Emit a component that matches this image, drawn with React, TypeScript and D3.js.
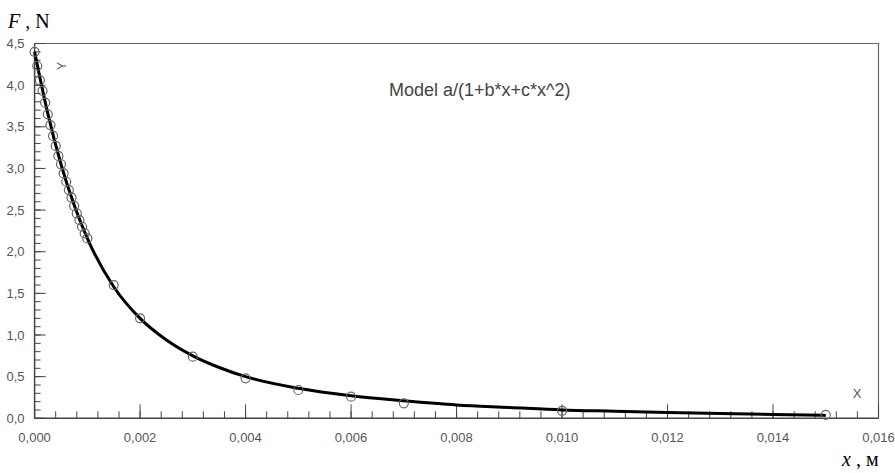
import { useEffect, useRef } from "react"
import * as d3 from "d3"

// measured points (x in m, F in N)
const pointX = [
  0, 0.00005, 0.0001, 0.00015, 0.0002, 0.00025, 0.0003, 0.00035, 0.0004, 0.00045,
  0.0005, 0.00055, 0.0006, 0.00065, 0.0007, 0.00075, 0.0008, 0.00085, 0.0009, 0.00095,
  0.001, 0.0015, 0.002, 0.003, 0.004, 0.005, 0.006, 0.007, 0.01, 0.015,
]
const pointF = [
  4.4, 4.23, 4.06, 3.93, 3.79, 3.65, 3.52, 3.39, 3.27, 3.15,
  3.05, 2.94, 2.84, 2.74, 2.65, 2.55, 2.46, 2.38, 2.3, 2.22,
  2.16, 1.6, 1.2, 0.74, 0.48, 0.34, 0.26, 0.18, 0.09, 0.04,
]

// fitted curve
const fitX = [
  0, 0.00025, 0.0005, 0.00075, 0.001, 0.0015, 0.002, 0.0025, 0.003, 0.0035, 0.004,
  0.005, 0.006, 0.007, 0.008, 0.009, 0.01, 0.011, 0.012, 0.013, 0.014, 0.015,
]
const fitF = [
  4.4, 3.66, 3.05, 2.56, 2.16, 1.58, 1.2, 0.94, 0.75, 0.61, 0.5,
  0.36, 0.27, 0.21, 0.16, 0.13, 0.1, 0.085, 0.07, 0.058, 0.046, 0.035,
]

const xMajorTicks = [0, 0.002, 0.004, 0.006, 0.008, 0.01, 0.012, 0.014, 0.016]
const yMajorTicks = [0, 0.5, 1, 1.5, 2, 2.5, 3, 3.5, 4, 4.5]

const W = 895
const H = 473
const left = 34.6
const right = 878.5
const top = 43.5
const bottom = 418.3
const tickFont = "'Liberation Sans Narrow', 'Liberation Sans', Arial, sans-serif"
const serifFont = "'Liberation Serif', 'Times New Roman', serif"

export default function App() {
  const svgRef = useRef<SVGSVGElement>(null)

  useEffect(() => {
    if (!svgRef.current) return
    const svg = d3.select(svgRef.current)
    svg.selectAll("*").remove()

    const x = d3.scaleLinear().domain([0, 0.016]).range([left, right])
    const y = d3.scaleLinear().domain([0, 4.5]).range([bottom, top])
    const comma = (v: number, f: string) => d3.format(f)(v).replace(".", ",")

    svg.append("rect").attr("width", W).attr("height", H).attr("fill", "#fff")

    // frame
    svg.append("path")
      .attr("d", `M${left},${top}H${right}V${bottom}`)
      .attr("fill", "none")
      .attr("stroke", "#666")
      .attr("stroke-width", 1.2)

    const axisColor = "#444"

    // x axis with minor ticks
    const gx = svg.append("g")
    gx.append("line")
      .attr("x1", left).attr("x2", right).attr("y1", bottom).attr("y2", bottom)
      .attr("stroke", axisColor).attr("stroke-width", 1.5)
    const xMinor = d3.range(0, 0.016 + 1e-9, 0.0004)
    gx.selectAll(".xminor")
      .data(xMinor)
      .join("line")
      .attr("x1", (d) => x(d)).attr("x2", (d) => x(d))
      .attr("y1", bottom).attr("y2", bottom - 7)
      .attr("stroke", axisColor).attr("stroke-width", 1)
    gx.selectAll(".xmajor")
      .data(xMajorTicks)
      .join("line")
      .attr("x1", (d) => x(d)).attr("x2", (d) => x(d))
      .attr("y1", bottom).attr("y2", bottom - 14)
      .attr("stroke", axisColor).attr("stroke-width", 1)
    gx.selectAll("text")
      .data(xMajorTicks)
      .join("text")
      .attr("x", (d) => x(d))
      .attr("y", bottom + 24)
      .attr("text-anchor", "middle")
      .attr("font-family", tickFont)
      .attr("font-size", 13)
      .attr("fill", "#555")
      .text((d) => comma(d, ".3f"))

    // y axis with minor ticks
    const gy = svg.append("g")
    gy.append("line")
      .attr("x1", left).attr("x2", left).attr("y1", top).attr("y2", bottom)
      .attr("stroke", axisColor).attr("stroke-width", 1.5)
    const yMinor = d3.range(0, 4.5 + 1e-9, 0.1)
    gy.selectAll(".yminor")
      .data(yMinor)
      .join("line")
      .attr("x1", left).attr("x2", left + 6)
      .attr("y1", (d) => y(d)).attr("y2", (d) => y(d))
      .attr("stroke", axisColor).attr("stroke-width", 1)
    gy.selectAll(".ymajor")
      .data(yMajorTicks)
      .join("line")
      .attr("x1", left).attr("x2", left + 11)
      .attr("y1", (d) => y(d)).attr("y2", (d) => y(d))
      .attr("stroke", axisColor).attr("stroke-width", 1)
    gy.selectAll("text")
      .data(yMajorTicks)
      .join("text")
      .attr("x", left - 10)
      .attr("y", (d) => y(d) + 4.5)
      .attr("text-anchor", "end")
      .attr("font-family", tickFont)
      .attr("font-size", 13)
      .attr("fill", "#555")
      .text((d) => comma(d, ".1f"))

    // fitted curve
    const line = d3.line<number>()
      .x((d) => x(fitX[d]))
      .y((d) => y(fitF[d]))
      .curve(d3.curveMonotoneX)
    svg.append("path")
      .datum(d3.range(fitX.length))
      .attr("d", line)
      .attr("fill", "none")
      .attr("stroke", "#000")
      .attr("stroke-width", 3)

    // measured points
    svg.selectAll(".pt")
      .data(d3.range(pointX.length))
      .join("circle")
      .attr("cx", (d) => x(pointX[d]))
      .attr("cy", (d) => y(pointF[d]))
      .attr("r", 4.5)
      .attr("fill", "none")
      .attr("stroke", "#666")
      .attr("stroke-width", 1.2)

    // labels inside the plot
    svg.append("text")
      .attr("x", 389)
      .attr("y", 96)
      .attr("font-family", tickFont)
      .attr("font-size", 18)
      .attr("fill", "#444")
      .text("Model a/(1+b*x+c*x^2)")

    svg.append("text")
      .attr("x", 857)
      .attr("y", 398)
      .attr("text-anchor", "middle")
      .attr("font-family", tickFont)
      .attr("font-size", 13)
      .attr("fill", "#555")
      .text("X")

    svg.append("text")
      .attr("transform", "translate(62,66) rotate(-90)")
      .attr("text-anchor", "middle")
      .attr("dy", "0.35em")
      .attr("font-family", tickFont)
      .attr("font-size", 12)
      .attr("fill", "#555")
      .text("Y")

    // axis titles
    const fTitle = svg.append("text")
      .attr("x", 8)
      .attr("y", 28)
      .attr("font-family", serifFont)
      .attr("font-size", 20)
      .attr("fill", "#000")
    fTitle.append("tspan").attr("font-style", "italic").text("F")
    fTitle.append("tspan").text(" , N")

    const xTitle = svg.append("text")
      .attr("x", 842)
      .attr("y", 466)
      .attr("font-family", serifFont)
      .attr("font-size", 20)
      .attr("fill", "#000")
    xTitle.append("tspan").attr("font-style", "italic").text("x")
    xTitle.append("tspan").text(" , м")
  }, [])

  return (
    <svg
      ref={svgRef}
      width={W}
      height={H}
      style={{ position: "absolute", left: 0, top: 0, display: "block" }}
    />
  )
}
